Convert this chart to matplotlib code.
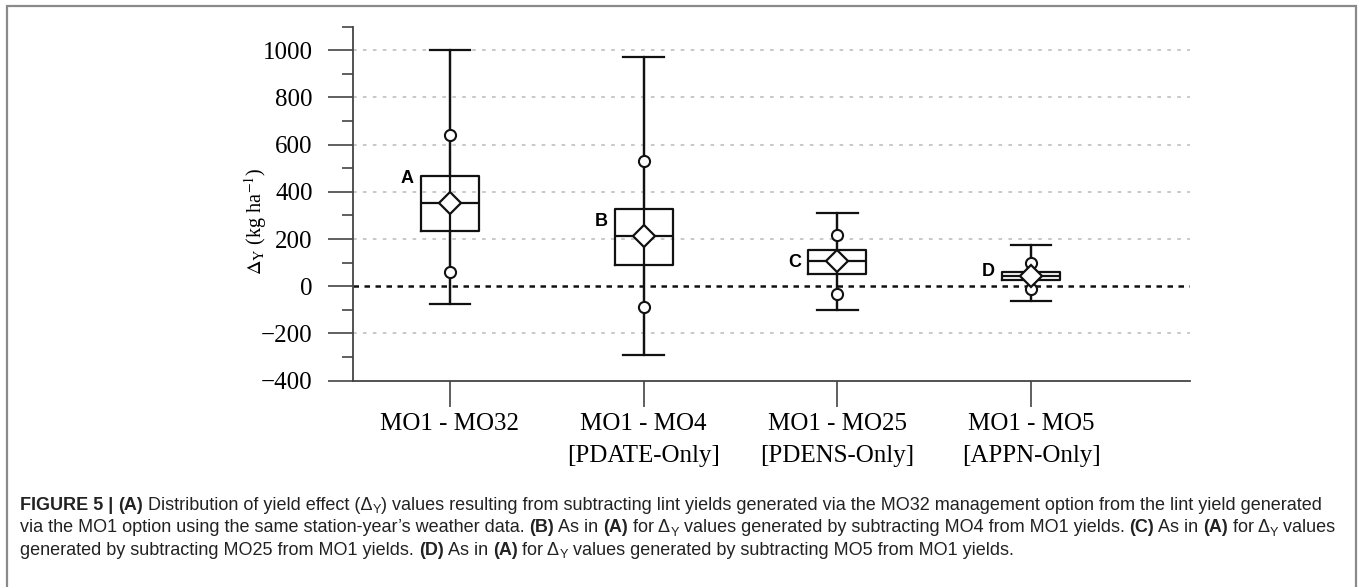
import matplotlib
matplotlib.use('Agg')
import matplotlib.pyplot as plt
from matplotlib.patches import Rectangle
from matplotlib.ticker import MultipleLocator

plt.rcParams['mathtext.fontset'] = 'stix'

# box statistics (kg ha-1)
labels = ['MO1 - MO32', 'MO1 - MO4\n[PDATE-Only]', 'MO1 - MO25\n[PDENS-Only]', 'MO1 - MO5\n[APPN-Only]']
letters = ['A', 'B', 'C', 'D']
q1 = [236, 90, 50, 28]
med = [355, 212, 107, 45]
q3 = [466, 328, 152, 61]
mean = [355, 212, 107, 45]
whislo = [-76, -292, -102, -64]
whishi = [1000, 970, 309, 177]
p10 = [59, -88, -31, -13]
p90 = [643, 531, 216, 99]
letter_y = [458, 275, 102, 64]
grid_vals = [-200, 200, 400, 600, 800, 1000]

caption = [
    [('FIGURE 5 | ', 'b'), ('(A)', 'b'), (' Distribution of yield effect (\u0394', 'n'), ('Y', 's'),
     (') values resulting from subtracting lint yields generated via the MO32 management option from the lint yield generated', 'n')],
    [('via the MO1 option using the same station-year\u2019s weather data. ', 'n'), ('(B)', 'b'), (' As in ', 'n'),
     ('(A)', 'b'), (' for \u0394', 'n'), ('Y', 's'), (' values generated by subtracting MO4 from MO1 yields. ', 'n'),
     ('(C)', 'b'), (' As in ', 'n'), ('(A)', 'b'), (' for \u0394', 'n'), ('Y', 's'), (' values', 'n')],
    [('generated by subtracting MO25 from MO1 yields. ', 'n'), ('(D)', 'b'), (' As in ', 'n'), ('(A)', 'b'),
     (' for \u0394', 'n'), ('Y', 's'), (' values generated by subtracting MO5 from MO1 yields.', 'n')],
]

W, H = 1360, 587
fig = plt.figure(figsize=(W / 100, H / 100), dpi=100)
ax = fig.add_axes([353 / W, 1 - 380.7 / H, (1190 - 353) / W, (380.7 - 26.7) / H])

pos = list(range(len(labels)))
stats = []
for i in pos:
    stats.append(dict(med=med[i], q1=q1[i], q3=q3[i], whislo=whislo[i], whishi=whishi[i],
                      mean=mean[i], fliers=[]))

line = dict(color='#111111', linewidth=1.6)
ax.vlines(pos, whislo, whishi, color='#111111', linewidth=1.6, zorder=2)
ax.bxp(stats, positions=pos, widths=0.3, capwidths=0.21, showmeans=True, manage_ticks=False,
       boxprops=line, whiskerprops=line, capprops=line, medianprops=line,
       meanprops=dict(marker='D', markerfacecolor='white', markeredgecolor='#111111',
                      markersize=11, markeredgewidth=1.6, zorder=6))
ax.plot(pos, p10, 'o', mfc='white', mec='#111111', ms=8, mew=1.5, zorder=5, ls='none')
ax.plot(pos, p90, 'o', mfc='white', mec='#111111', ms=8, mew=1.5, zorder=5, ls='none')

for i in pos:
    ax.text(i - 0.22, letter_y[i], letters[i], ha='center', va='center',
            fontsize=13, fontweight='bold', family='Liberation Sans')

for g in grid_vals:
    ax.axhline(g, color='#c4c4c4', linewidth=1.3, linestyle=(0, (2, 3.5)), zorder=0)
ax.axhline(0, color='#111111', linewidth=1.8, linestyle=(0, (2.2, 2.2)), zorder=1)

ax.set_xlim(-0.5, 3.82)
ax.set_ylim(-400, 1100)
ax.set_yticks(range(-400, 1001, 200))
ax.yaxis.set_minor_locator(MultipleLocator(100))
ax.set_xticks(pos)
ax.set_xticklabels(labels, family='Liberation Serif', fontsize=18, linespacing=1.6)
for lab in ax.get_yticklabels():
    lab.set_family('Liberation Serif')
    lab.set_fontsize(18)

for s in ['top', 'right']:
    ax.spines[s].set_visible(False)
for s in ['left', 'bottom']:
    ax.spines[s].set_color('#444444')
    ax.spines[s].set_linewidth(1.3)
ax.tick_params(axis='y', which='major', length=18, width=1.2, color='#444444', pad=11)
ax.tick_params(axis='y', which='minor', length=8, width=1.2, color='#444444')
ax.tick_params(axis='x', which='major', length=19, width=1.2, color='#444444', pad=4)

ax.set_ylabel(r'$\Delta_{\mathrm{Y}}$ (kg ha$^{-1}$)', family='Liberation Serif', fontsize=14.5, labelpad=8)
ax.yaxis.set_label_coords(-0.1, 0.45)

# outer frame
fig.patches.append(Rectangle((7 / W, -0.1), (1356 - 7) / W, 1.1 - 6 / H, transform=fig.transFigure,
                             fill=False, edgecolor='#8a8a8a', linewidth=1.6))

# caption with mixed bold / subscript runs
fig.canvas.draw()
renderer = fig.canvas.get_renderer()
cap_size = 13.0
y0 = 510
for k, segs in enumerate(caption):
    x = 20
    yb = y0 + k * 22.5
    for txt, kind in segs:
        if kind == 's':
            t = fig.text(x / W, 1 - (yb + 3) / H, txt, fontsize=cap_size * 0.7, family='Liberation Sans',
                         va='baseline', ha='left', color='#222222')
        else:
            t = fig.text(x / W, 1 - yb / H, txt, fontsize=cap_size, family='Liberation Sans',
                         fontweight='bold' if kind == 'b' else 'normal', va='baseline', ha='left',
                         color='#222222')
        bb = t.get_window_extent(renderer)
        x += bb.width

fig.savefig('out.png', dpi=100)
